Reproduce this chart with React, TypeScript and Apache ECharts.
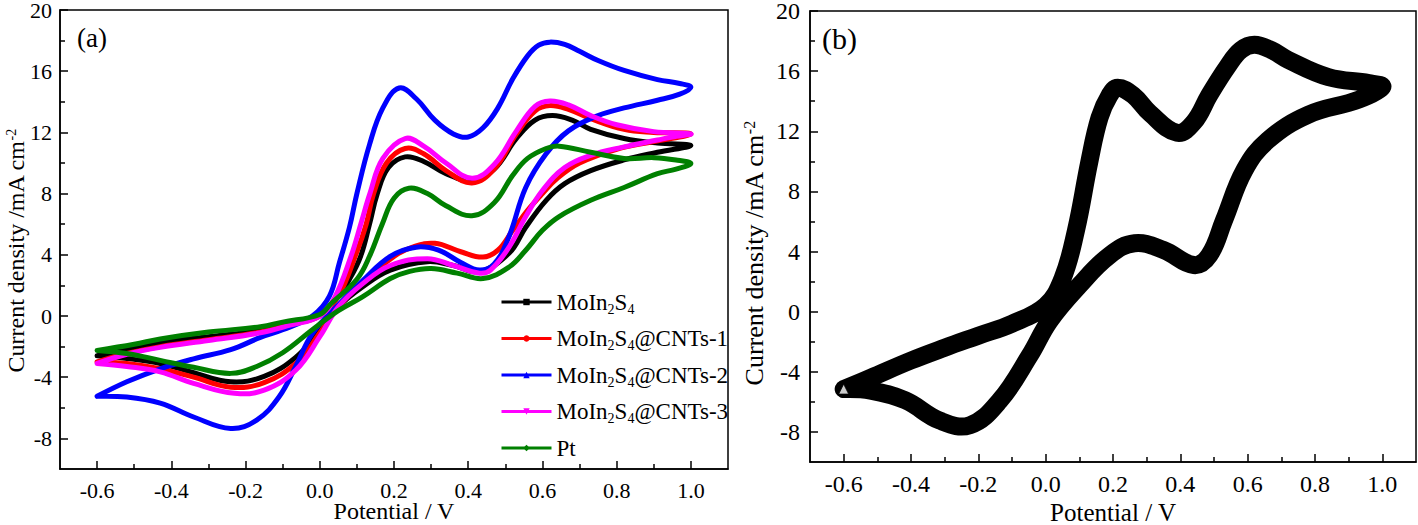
import React, { useEffect, useRef } from "react";
import * as echarts from "echarts";

// ---------- data (potential V, current density mA cm^-2), loops start at -0.6 V ----------
const seriesNames = ["MoIn2S4", "MoIn2S4@CNTs-1", "MoIn2S4@CNTs-2", "MoIn2S4@CNTs-3", "Pt"];
const seriesColors = ["#000000", "#ff0000", "#0000ff", "#ff00ff", "#008000"];

const moIn2S4 = [
  [-0.6, -2.6], [-0.52, -2.2], [-0.43, -1.75], [-0.3, -1.35], [-0.16, -0.95], [-0.08, -0.5], [0, 0.05],
  [0.05, 1.3], [0.08, 2.4], [0.11, 3.9], [0.134, 6.0], [0.155, 8.0], [0.185, 9.7], [0.23, 10.4],
  [0.28, 10.1], [0.34, 9.3], [0.41, 8.85], [0.47, 9.6], [0.53, 11.6], [0.58, 12.8], [0.627, 13.1],
  [0.68, 12.8], [0.73, 12.2], [0.82, 11.6], [0.91, 11.3], [1.0, 11.15],
  [0.91, 10.7], [0.82, 10.2], [0.73, 9.5], [0.66, 8.65], [0.61, 7.56], [0.555, 5.8], [0.51, 4.1],
  [0.43, 2.9], [0.36, 3.3], [0.29, 3.55], [0.19, 3.0], [0.115, 1.9], [0.05, 0.6], [0, -0.95],
  [-0.065, -2.7], [-0.15, -3.95], [-0.24, -4.3], [-0.34, -3.7], [-0.43, -3.1], [-0.52, -2.78], [-0.6, -2.6],
];

const cnts1 = [
  [-0.6, -3.0], [-0.52, -2.45], [-0.43, -2.0], [-0.3, -1.55], [-0.16, -1.05], [-0.08, -0.55], [0, 0],
  [0.05, 1.3], [0.1, 4.2], [0.125, 6.0], [0.145, 8.0], [0.18, 10.0], [0.23, 10.95],
  [0.28, 10.6], [0.34, 9.5], [0.41, 8.7], [0.47, 9.6], [0.53, 11.9], [0.58, 13.4], [0.62, 13.75],
  [0.67, 13.5], [0.73, 12.9], [0.82, 12.2], [0.9, 12.0], [1.0, 11.9],
  [0.9, 11.4], [0.8, 10.9], [0.7, 10.0], [0.64, 9.0], [0.6, 8.0], [0.56, 6.9], [0.52, 5.6],
  [0.48, 4.3], [0.44, 3.85], [0.38, 4.2], [0.31, 4.75], [0.25, 4.5], [0.2, 3.9], [0.115, 2.2],
  [0.05, 0.6], [0, -1.1], [-0.06, -3.0], [-0.15, -4.35], [-0.24, -4.65], [-0.34, -4.0],
  [-0.43, -3.45], [-0.52, -3.1], [-0.6, -3.0],
];

const cnts2 = [
  [-0.6, -5.25], [-0.52, -4.3], [-0.43, -3.45], [-0.34, -2.8], [-0.24, -2.2], [-0.16, -1.4], [-0.1, -0.9],
  [-0.02, 0], [0.026, 1.3], [0.053, 3.5], [0.08, 5.8], [0.1, 8.0], [0.134, 11.2], [0.17, 13.6],
  [0.214, 14.9], [0.26, 14.2], [0.31, 12.8], [0.36, 11.9], [0.4, 11.7], [0.44, 12.3], [0.48, 13.6],
  [0.52, 15.5], [0.56, 17.0], [0.59, 17.7], [0.62, 17.9], [0.66, 17.75], [0.7, 17.3], [0.75, 16.7],
  [0.82, 16.05], [0.91, 15.45], [0.97, 15.2], [1.0, 14.95],
  [0.97, 14.5], [0.91, 14.1], [0.82, 13.6], [0.75, 13.1], [0.67, 12.1], [0.61, 10.6], [0.555, 8.4],
  [0.51, 5.2], [0.47, 3.4], [0.43, 3.0], [0.38, 3.5], [0.32, 4.3], [0.26, 4.5], [0.19, 3.9],
  [0.115, 2.3], [0.053, 0.8], [-0.02, -1.15], [-0.065, -3.3], [-0.11, -5.3], [-0.17, -6.8],
  [-0.24, -7.35], [-0.34, -6.6], [-0.43, -5.7], [-0.52, -5.3], [-0.6, -5.25],
];

const cnts3 = [
  [-0.6, -3.1], [-0.52, -2.5], [-0.43, -2.05], [-0.3, -1.6], [-0.16, -1.1], [-0.08, -0.6], [0, 0],
  [0.04, 1.2], [0.084, 3.9], [0.111, 6.05], [0.135, 8.0], [0.17, 10.3], [0.23, 11.6],
  [0.28, 11.1], [0.34, 10.0], [0.41, 9.0], [0.47, 9.9], [0.53, 12.1], [0.58, 13.7], [0.62, 14.05],
  [0.67, 13.8], [0.73, 13.1], [0.8, 12.5], [0.9, 12.05], [1.0, 11.9],
  [0.95, 11.7], [0.91, 11.5], [0.82, 11.05], [0.73, 10.5], [0.66, 9.7], [0.6, 8.2], [0.555, 6.5],
  [0.51, 4.5], [0.46, 3.0], [0.43, 2.8], [0.36, 3.3], [0.29, 3.75], [0.19, 3.3], [0.115, 2.1],
  [0.05, 0.6], [0, -1.35], [-0.065, -3.55], [-0.15, -4.85], [-0.23, -5.05], [-0.34, -4.4],
  [-0.43, -3.65], [-0.52, -3.3], [-0.6, -3.1],
];

const pt = [
  [-0.6, -2.25], [-0.5, -1.85], [-0.43, -1.5], [-0.3, -1.05], [-0.16, -0.7], [-0.1, -0.4], [0, 0.1],
  [0.03, 0.8], [0.1, 2.4], [0.134, 3.9], [0.169, 6.05], [0.2, 7.7], [0.24, 8.35],
  [0.29, 8.0], [0.34, 7.2], [0.41, 6.55], [0.47, 7.4], [0.52, 9.2], [0.56, 10.3], [0.61, 10.95],
  [0.645, 11.1], [0.73, 10.7], [0.82, 10.3], [0.9, 10.35], [0.96, 10.2], [1.0, 9.97],
  [0.96, 9.6], [0.91, 9.3], [0.82, 8.4], [0.73, 7.56], [0.645, 6.5], [0.6, 5.6], [0.555, 4.3],
  [0.51, 3.2], [0.44, 2.45], [0.37, 2.8], [0.3, 3.1], [0.24, 2.9], [0.19, 2.45], [0.115, 1.25],
  [0.05, 0.35], [-0.02, -0.9], [-0.1, -2.4], [-0.17, -3.3], [-0.24, -3.75], [-0.34, -3.35],
  [-0.43, -2.9], [-0.52, -2.45], [-0.6, -2.25],
];

const panelB = [
  [-0.6, -5.15], [-0.52, -4.4], [-0.4, -3.25], [-0.3, -2.4], [-0.2, -1.6], [-0.1, -0.8], [0, 0.4],
  [0.05, 2.2], [0.09, 5.4], [0.13, 10.0], [0.16, 12.9], [0.19, 14.4], [0.214, 14.9], [0.26, 14.4],
  [0.31, 13.2], [0.39, 11.9], [0.44, 12.6], [0.486, 14.4], [0.54, 16.3], [0.58, 17.4], [0.62, 17.75],
  [0.67, 17.4], [0.72, 16.75], [0.84, 15.6], [0.96, 15.2], [1.0, 14.95],
  [0.93, 14.1], [0.78, 13.1], [0.66, 11.4], [0.59, 9.4], [0.53, 6.1], [0.486, 3.75], [0.44, 3.1],
  [0.35, 4.1], [0.264, 4.55], [0.19, 3.75], [0.1, 1.75], [0.012, -0.6], [-0.047, -2.9],
  [-0.136, -5.9], [-0.225, -7.55], [-0.314, -7.25], [-0.417, -5.9], [-0.52, -5.25], [-0.6, -5.15],
];

const xMajor = [-0.6, -0.4, -0.2, 0, 0.2, 0.4, 0.6, 0.8, 1.0];
const xMinor = [-0.5, -0.3, -0.1, 0.1, 0.3, 0.5, 0.7, 0.9];
const yMajor = [-8, -4, 0, 4, 8, 12, 16, 20];
const yMinor = [-6, -2, 2, 6, 10, 14, 18];

const FONT = '"Liberation Serif", "Times New Roman", serif';
const LFS = 23;

type AxisText = { fs: number; nfs: number; labelMargin: number; nameGap: number; namePad?: number };

function xAxisDef(gridIndex: number, main: boolean, t: AxisText) {
  return {
    type: "value",
    gridIndex,
    min: -0.7,
    max: 1.1,
    position: "bottom",
    axisLine: { show: main, onZero: false, lineStyle: { color: "#000", width: 1.5 } },
    axisTick: {
      show: true,
      inside: true,
      length: main ? 8 : 5,
      customValues: main ? xMajor : xMinor,
      lineStyle: { color: "#000", width: 1.5 },
    },
    axisLabel: main
      ? {
          show: true,
          customValues: xMajor,
          formatter: (v: number) => v.toFixed(1),
          margin: t.labelMargin,
          color: "#000",
          fontFamily: FONT,
          fontSize: t.fs,
          lineHeight: Math.round(t.fs * 0.8),
        }
      : { show: false },
    splitLine: { show: false },
    name: main ? "Potential / V" : "",
    nameLocation: "middle",
    nameGap: t.nameGap,
    nameMoveOverlap: false,
    nameTextStyle: { color: "#000", fontFamily: FONT, fontSize: t.nfs, lineHeight: Math.round(t.nfs * 0.85) },
  };
}

function yAxisDef(gridIndex: number, main: boolean, t: AxisText) {
  return {
    type: "value",
    gridIndex,
    min: -10,
    max: 20,
    position: "left",
    axisLine: { show: main, onZero: false, lineStyle: { color: "#000", width: 1.5 } },
    axisTick: {
      show: true,
      inside: true,
      length: main ? 8 : 5,
      customValues: main ? yMajor : yMinor,
      lineStyle: { color: "#000", width: 1.5 },
    },
    axisLabel: main
      ? {
          show: true,
          customValues: yMajor,
          formatter: (v: number) => String(v),
          margin: t.labelMargin,
          color: "#000",
          fontFamily: FONT,
          fontSize: t.fs,
          lineHeight: Math.round(t.fs * 0.7),
        }
      : { show: false },
    splitLine: { show: false },
    name: main ? "Current density /mA cm{sup|-2}" : "",
    nameLocation: "middle",
    nameRotate: 90,
    nameGap: t.nameGap,
    nameMoveOverlap: false,
    nameTextStyle: {
      color: "#000",
      fontFamily: FONT,
      fontSize: t.nfs,
      lineHeight: t.nfs,
      padding: [0, t.namePad || 0, 0, 0],
      rich: {
        sup: { fontFamily: FONT, fontSize: Math.round(t.nfs * 0.6), lineHeight: 10, verticalAlign: "top", color: "#000" },
      },
    },
  };
}

const symbols = ["rect", "circle", "triangle", "path://M0,0 L10,0 L5,10 Z", "diamond"];
const dataSets = [moIn2S4, cnts1, cnts2, cnts3, pt];

function curveSeries(
  name: string,
  data: number[][],
  color: string,
  width: number,
  axisIndex: number,
  z: number
) {
  return {
    type: "custom",
    name,
    xAxisIndex: axisIndex,
    yAxisIndex: axisIndex,
    data,
    encode: { x: 0, y: 1 },
    silent: true,
    z,
    renderItem: (params: any, api: any) => {
      if (params.dataIndex !== 0) return null;
      const points = data.map((p) => api.coord(p));
      return {
        type: "polyline",
        shape: { points, smooth: 0.4 },
        style: { stroke: color, lineWidth: width, fill: "none", lineJoin: "round", lineCap: "round" },
      };
    },
  };
}

function buildOption() {
  // legend-only line series (icon: line + symbol)
  const legendSeries = seriesNames.map((n, i) => ({
    type: "line",
    name: n,
    xAxisIndex: 0,
    yAxisIndex: 0,
    data: [],
    symbol: symbols[i],
    symbolSize: 7,
    lineStyle: { color: seriesColors[i], width: 3 },
    itemStyle: { color: seriesColors[i] },
  }));
  const curves = dataSets.map((d, i) => curveSeries(seriesNames[i] + " curve", d, seriesColors[i], 5, 0, 2 + i));

  const ta: AxisText = { fs: 22, nfs: 24, labelMargin: 12, nameGap: 32 };
  const taY: AxisText = { fs: 22, nfs: 24, labelMargin: 8, nameGap: 32, namePad: 23 };
  const tb: AxisText = { fs: 24, nfs: 25, labelMargin: 12, nameGap: 40 };
  const tbY: AxisText = { fs: 24, nfs: 26, labelMargin: 10, nameGap: 43, namePad: 34 };

  return {
    animation: false,
    backgroundColor: "#fff",
    grid: [
      {
        left: 60, top: 10, width: 668, height: 459, show: true, borderColor: "#000", borderWidth: 1.5,
        containLabel: false, outerBoundsMode: "none",
      },
      {
        left: 810, top: 11, width: 606, height: 451, show: true, borderColor: "#000", borderWidth: 1.5,
        containLabel: false, outerBoundsMode: "none",
      },
    ],
    xAxis: [xAxisDef(0, true, ta), xAxisDef(0, false, ta), xAxisDef(1, true, tb), xAxisDef(1, false, tb)],
    yAxis: [yAxisDef(0, true, taY), yAxisDef(0, false, taY), yAxisDef(1, true, tbY), yAxisDef(1, false, tbY)],
    legend: {
      data: seriesNames,
      orient: "vertical",
      left: 495,
      top: 283,
      itemWidth: 50,
      itemHeight: 8,
      itemGap: 8.5,
      selectedMode: false,
      lineStyle: { width: 3 },
      formatter: (name: string) => name.replace("MoIn2S4", "MoIn{sub|2}S{sub|4}"),
      textStyle: {
        color: "#000",
        fontFamily: FONT,
        fontSize: LFS,
        lineHeight: 28,
        rich: {
          sub: { fontFamily: FONT, fontSize: 14, lineHeight: 12, verticalAlign: "bottom", color: "#000" },
        },
      },
    },
    graphic: [
      { type: "text", left: 77, top: 24, style: { text: "(a)", fontFamily: FONT, fontSize: 27, fill: "#000" } },
      { type: "text", left: 822, top: 23, style: { text: "(b)", fontFamily: FONT, fontSize: 30, fill: "#000" } },
    ],
    series: [
      ...legendSeries,
      ...curves,
      curveSeries("b", panelB, "#000", 18, 2, 2),
      {
        type: "scatter",
        name: "b-end",
        xAxisIndex: 2,
        yAxisIndex: 2,
        data: [panelB[panelB.length - 1]],
        symbol: "triangle",
        symbolSize: 10,
        itemStyle: { color: "#fff", borderColor: "#000", borderWidth: 1 },
        z: 5,
      },
    ],
  };
}

export default function App() {
  const ref = useRef<HTMLDivElement>(null);
  useEffect(() => {
    if (!ref.current) return;
    const chart = echarts.init(ref.current, null, { renderer: "svg" });
    chart.setOption(buildOption() as any);
    return () => chart.dispose();
  }, []);
  return (
    <div
      ref={ref}
      style={{ position: "fixed", left: 0, top: 0, width: 1418, height: 525, background: "#fff" }}
    />
  );
}
